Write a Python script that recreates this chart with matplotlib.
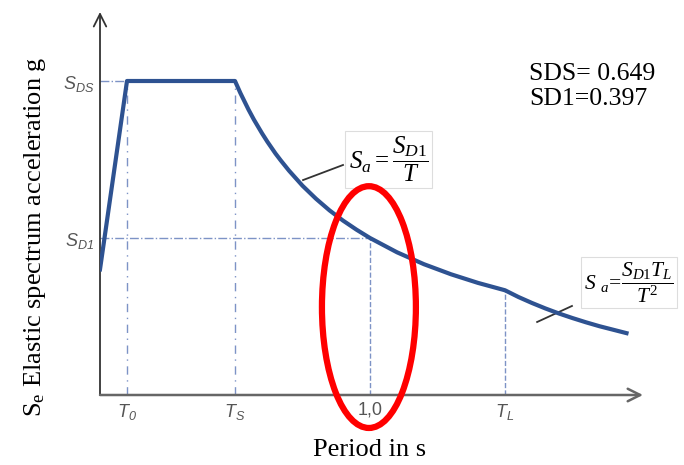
"""
Design response spectrum (schematic)
====================================
"""

import matplotlib.pyplot as plt
from matplotlib.patches import Ellipse

##################################################
# Data (period in s, spectral acceleration in units of S_D1)
period = [0.0, 0.1, 0.5, 0.52, 0.55, 0.57, 0.6, 0.62, 0.65, 0.67, 0.7,
          0.75, 0.8, 0.85, 0.9, 0.95, 1.0, 1.1, 1.2, 1.3, 1.4, 1.5,
          1.55, 1.6, 1.65, 1.7, 1.75, 1.8, 1.85, 1.9, 1.95]
sa = [0.8, 2.0, 2.0, 1.923, 1.818, 1.754, 1.667, 1.613, 1.538, 1.493,
      1.429, 1.333, 1.25, 1.176, 1.111, 1.053, 1.0, 0.909, 0.833, 0.769,
      0.714, 0.667, 0.624, 0.586, 0.551, 0.519, 0.490, 0.463, 0.438,
      0.416, 0.394]

t_ticks = [0.1, 0.5, 1.0, 1.5]
t_labels = [r"$\mathsf{T_0}$", r"$\mathsf{T_S}$", "1,0", r"$\mathsf{T_L}$"]
s_ticks = [2.0, 1.0]
s_labels = [r"$\mathsf{S_{DS}}$", r"$\mathsf{S_{D1}}$"]
sds, sd1 = 2.0, 1.0
t0, ts, t_one, tl = 0.1, 0.5, 1.0, 1.5
sa_tl = 0.667

sds_text = "SDS= 0.649\nSD1=0.397"

##################################################
# Style
plt.rcParams["font.family"] = ["Liberation Serif", "DejaVu Serif"]
plt.rcParams["mathtext.fontset"] = "custom"
plt.rcParams["mathtext.rm"] = "Liberation Serif"
plt.rcParams["mathtext.it"] = "Liberation Serif:italic"
plt.rcParams["mathtext.sf"] = "Liberation Sans:italic"

blue = "#2e5291"
guide = "#7d93c6"
grey = "#555555"

W, H = 684, 465
fig = plt.figure(figsize=(W / 100, H / 100), dpi=100)
ax = fig.add_axes([100 / W, (H - 395) / H, 543 / W, 383 / H])
ax.set_xlim(0, 543 / 270)
ax.set_ylim(0, 383 / 157)
for s in ax.spines.values():
    s.set_visible(False)

# axes with arrows
ax.annotate("", xy=(0, 1), xytext=(0, 0), xycoords="axes fraction",
            arrowprops=dict(arrowstyle="->,head_length=0.9,head_width=0.45",
                            color="#333333", lw=1.3, shrinkA=0, shrinkB=0))
ax.annotate("", xy=(1, 0), xytext=(0, 0), xycoords="axes fraction",
            arrowprops=dict(arrowstyle="->,head_length=0.9,head_width=0.45",
                            color="#666666", lw=1.8, shrinkA=0, shrinkB=0))

# guide lines
ax.plot([0, ts], [sds, sds], color=guide, lw=1, ls="-.")
ax.plot([0, t_one], [sd1, sd1], color=guide, lw=1, ls="-.")
ax.plot([t0, t0], [0, sds], color=guide, lw=1, ls=(0, (6, 4, 1, 4)))
ax.plot([ts, ts], [0, sds], color=guide, lw=1, ls=(0, (6, 4, 1, 4)))
ax.plot([t_one, t_one], [0, sd1], color=guide, lw=1, ls="--")
ax.plot([tl, tl], [0, sa_tl], color=guide, lw=1, ls="--")

# spectrum
ax.plot(period, sa, color=blue, lw=3, solid_joinstyle="round", zorder=3)

# ticks
ax.set_xticks(t_ticks, t_labels, fontsize=13, color=grey,
              family="Liberation Sans")
ax.set_yticks(s_ticks, s_labels, fontsize=13, color=grey)
ax.tick_params(length=0)
ax.tick_params(axis="x", pad=5)
ax.tick_params(axis="y", pad=4)
ax.xaxis.set_zorder(5)

# formulas
ax.plot([0.752, 0.9], [1.369, 1.465], color="#333333", lw=1.3)
ax.text(1.07, 1.50, r"$S_a = \dfrac{S_{D1}}{T}$", fontsize=18,
        ha="center", va="center",
        bbox=dict(boxstyle="square,pad=0.15", fc="white", ec="#dddddd",
                  lw=0.8))
ax.plot([1.619, 1.748], [0.465, 0.567], color="#333333", lw=1.3)
ax.text(1.96, 0.715, r"$S\ _a\!=\!\dfrac{S_{D1}T_L}{T^2}$", fontsize=15.5,
        ha="center", va="center", clip_on=False, zorder=2,
        bbox=dict(boxstyle="square,pad=0.15", fc="white", ec="#dddddd",
                  lw=0.8))

# red ellipse
ax.add_patch(Ellipse((0.996, 0.56), 0.348, 1.54, fill=False,
                     ec="#ff0000", lw=4.5, zorder=4, clip_on=False))

# labels
fig.text(529 / W, 1 - 63 / H, sds_text, fontsize=18.5, ha="left", va="top",
         linespacing=1.15)
fig.text(370 / W, 1 - 450 / H, "Period in s", fontsize=19,
         ha="center", va="center")
fig.text(35 / W, 1 - 237 / H, r"S$_{\mathrm{e}}$ Elastic spectrum acceleration g",
         fontsize=19, rotation=90, ha="center", va="center")

fig.savefig("out.png", dpi=100)
